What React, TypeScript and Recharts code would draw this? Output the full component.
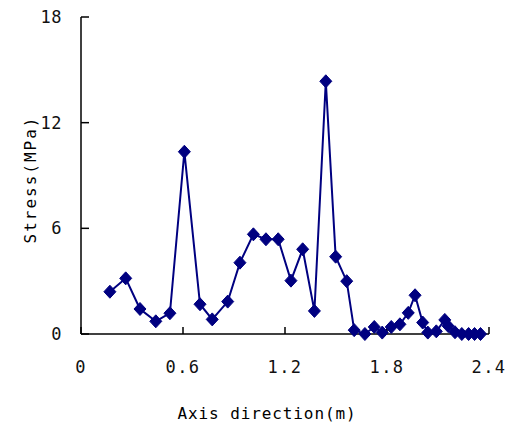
import React from 'react';
import { LineChart, Line, XAxis, YAxis } from 'recharts';

const positions = [0.17, 0.263, 0.347, 0.44, 0.523, 0.608, 0.70, 0.772, 0.863, 0.935, 1.014, 1.088, 1.16, 1.235, 1.304, 1.373, 1.44, 1.498, 1.563, 1.607, 1.67, 1.725, 1.772, 1.825, 1.876, 1.925, 1.965, 2.01, 2.04, 2.09, 2.14, 2.16, 2.2, 2.24, 2.28, 2.315, 2.35];
const stress = [2.4, 3.16, 1.42, 0.72, 1.18, 10.35, 1.69, 0.83, 1.84, 4.05, 5.66, 5.38, 5.38, 3.03, 4.81, 1.31, 14.35, 4.39, 3.0, 0.22, 0.0, 0.4, 0.08, 0.4, 0.55, 1.2, 2.2, 0.65, 0.08, 0.15, 0.8, 0.45, 0.1, 0, 0, 0, 0];
const xTicks = [0, 0.6, 1.2, 1.8, 2.4];
const yTicks = [0, 6, 12, 18];

const data = positions.map((x, i) => ({ x, y: stress[i] }));

const FONT = '"DejaVu Sans Mono", "Liberation Mono", monospace';
const NAVY = '#000080';

const Diamond = (props: any) => {
  const { cx, cy } = props;
  if (cx == null || cy == null) return null;
  const w = 6, h = 6.5;
  return (
    <polygon
      points={`${cx},${cy - h} ${cx + w},${cy} ${cx},${cy + h} ${cx - w},${cy}`}
      fill={NAVY}
      stroke={NAVY}
      strokeWidth={1}
    />
  );
};

const YTitle = (props: any) => {
  const vb = props.viewBox || {};
  const cx = vb.x + 30;
  const cy = vb.y + vb.height / 2 + 4;
  return (
    <text
      x={cx}
      y={cy}
      transform={`rotate(-90 ${cx} ${cy})`}
      textAnchor="middle"
      dominantBaseline="central"
      fontFamily={FONT}
      fontSize={16}
      letterSpacing={2}
      fill="#000"
    >
      Stress(MPa)
    </text>
  );
};

const XTitle = (props: any) => {
  const vb = props.viewBox || {};
  const cx = vb.x + vb.width / 2 - 18;
  const cy = vb.y + 79;
  return (
    <text
      x={cx}
      y={cy}
      textAnchor="middle"
      dominantBaseline="central"
      fontFamily={FONT}
      fontSize={16}
      letterSpacing={0.9}
      fill="#000"
    >
      Axis direction(m)
    </text>
  );
};

export default function App() {
  return (
    <div style={{ position: 'fixed', left: 0, top: 0, width: 507, height: 428, background: '#fff', overflow: 'visible' }}>
      <style>{'html,body{margin:0;padding:0;overflow:hidden;}'}</style>
      <LineChart width={507} height={428} data={data} margin={{ top: 17, right: 18, bottom: 0, left: 0 }} style={{ overflow: 'visible' }}>
        <XAxis
          dataKey="x"
          type="number"
          domain={[0, 2.4]}
          ticks={xTicks}
          tickFormatter={(v: number) => String(v)}
          height={94}
          axisLine={{ stroke: '#000', strokeWidth: 1.5 }}
          tickLine={{ stroke: '#000', strokeWidth: 1.5 }}
          tickSize={-7}
          tickMargin={34}
          tick={{ fill: '#111', fontFamily: FONT, fontSize: 17, letterSpacing: 1.5 }}
          label={<XTitle />}
        />
        <YAxis
          type="number"
          domain={[0, 18]}
          ticks={yTicks}
          width={81}
          axisLine={{ stroke: '#000', strokeWidth: 1.5 }}
          tickLine={{ stroke: '#000', strokeWidth: 1.5 }}
          tickSize={-8}
          tickMargin={27}
          tick={{ fill: '#111', fontFamily: FONT, fontSize: 17, letterSpacing: 0.5 }}
          label={<YTitle />}
        />
        <Line
          type="linear"
          dataKey="y"
          stroke={NAVY}
          strokeWidth={2}
          dot={<Diamond />}
          activeDot={false}
          isAnimationActive={false}
        />
      </LineChart>
    </div>
  );
}
